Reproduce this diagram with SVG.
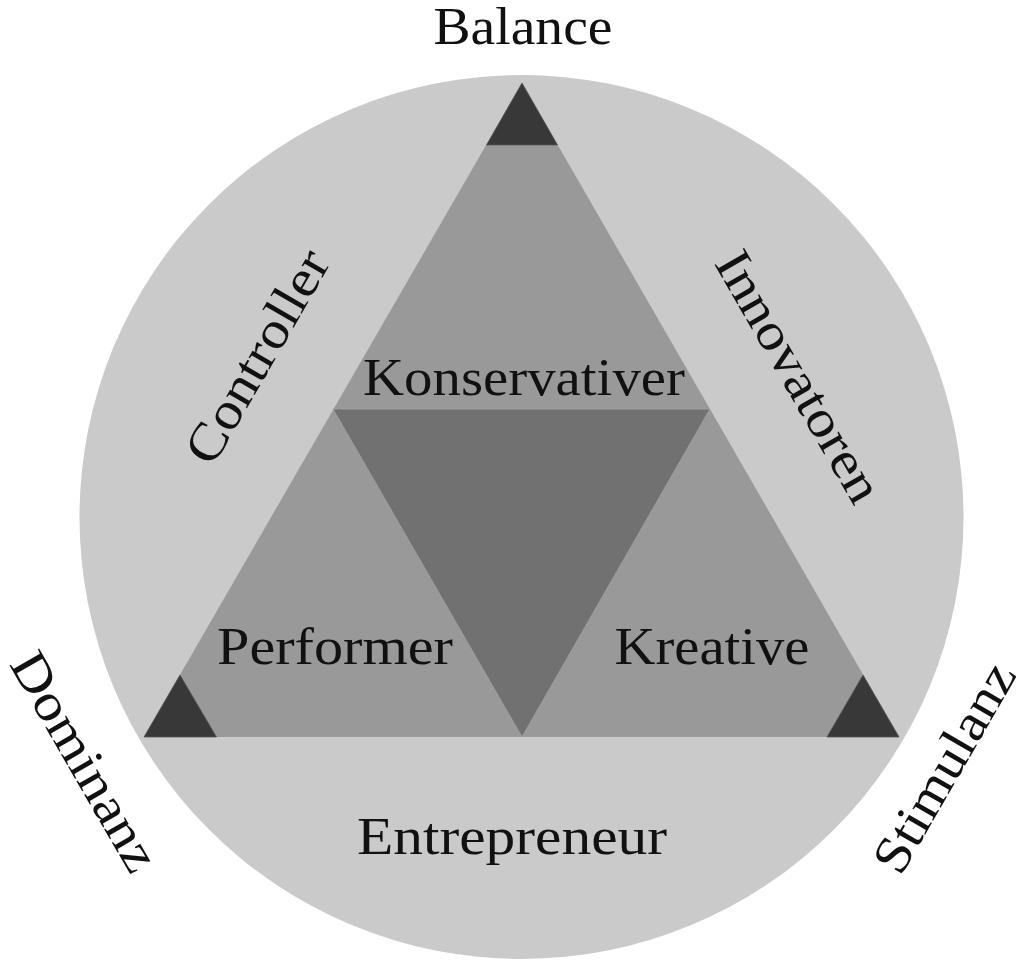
<svg xmlns="http://www.w3.org/2000/svg" width="1016" height="960" viewBox="0 0 1016 960">
  <style>
    .lbl { font-family: "Liberation Serif", "Times New Roman", serif; font-size: 52px; fill: #111111; text-anchor: middle; }
    .ring { fill: #cacaca; }
    .outer { fill: #999999; }
    .inner { fill: #717171; stroke: #9e9e9e; stroke-width: 1; }
    .corner { fill: #383838; stroke: #555555; stroke-width: 0.8; }
  </style>
  <rect width="1016" height="960" fill="#ffffff"/>
  <g id="circle">
    <circle class="ring" cx="521.5" cy="517" r="442"/>
  </g>
  <g id="triangle">
    <polygon class="outer" points="522,83 144,737 899,737"/>
  </g>
  <g id="center-triangle">
    <polygon class="inner" points="333,409 710,409 522,737"/>
  </g>
  <g id="corner-top">
    <polygon class="corner" points="522,83 486.5,145 557.5,145"/>
  </g>
  <g id="corner-left">
    <polygon class="corner" points="180,675 144,737 216.5,737"/>
  </g>
  <g id="corner-right">
    <polygon class="corner" points="863,675 827,737 899,737"/>
  </g>
  <g id="connectors"></g>
  <g id="labels">
    <text id="balance" class="lbl" x="523" y="44" textLength="179" lengthAdjust="spacingAndGlyphs">Balance</text>
    <text id="konservativer" class="lbl" x="524" y="395" textLength="322" lengthAdjust="spacingAndGlyphs">Konservativer</text>
    <text id="performer" class="lbl" x="335" y="664" textLength="236" lengthAdjust="spacingAndGlyphs">Performer</text>
    <text id="kreative" class="lbl" x="712" y="664" textLength="195" lengthAdjust="spacingAndGlyphs">Kreative</text>
    <text id="entrepreneur" class="lbl" x="512" y="854" textLength="310" lengthAdjust="spacingAndGlyphs">Entrepreneur</text>
    <text id="controller" class="lbl" transform="translate(272,365) rotate(-60)" x="0" y="0" textLength="238" lengthAdjust="spacingAndGlyphs">Controller</text>
    <text id="innovatoren" class="lbl" transform="translate(784,385) rotate(60)" x="0" y="0" textLength="282" lengthAdjust="spacingAndGlyphs">Innovatoren</text>
    <text id="dominanz" class="lbl" transform="translate(70,770) rotate(60)" x="0" y="0" textLength="245" lengthAdjust="spacingAndGlyphs">Dominanz</text>
    <text id="stimulanz" class="lbl" transform="translate(959,776) rotate(-60)" x="0" y="0" textLength="234" lengthAdjust="spacingAndGlyphs">Stimulanz</text>
  </g>
</svg>
